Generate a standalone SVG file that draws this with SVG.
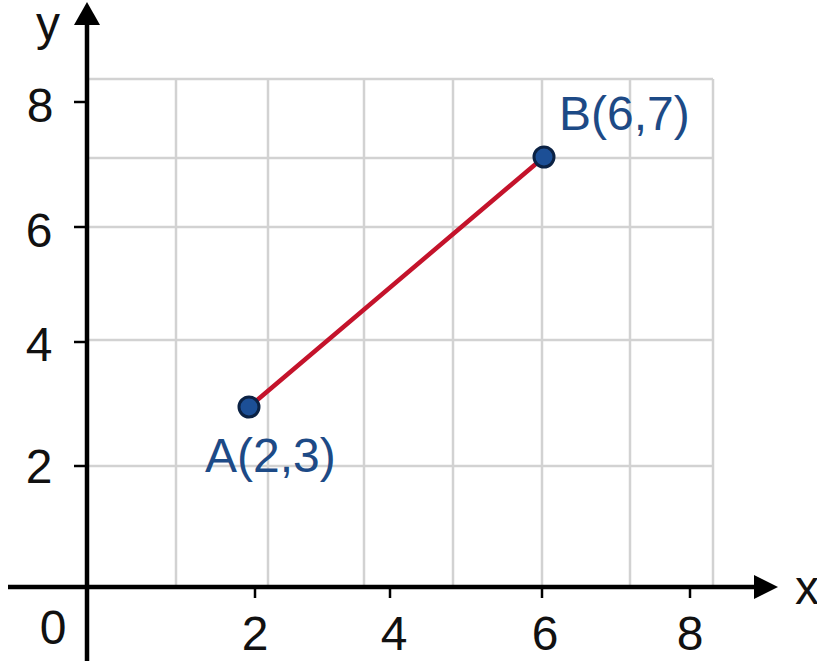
<svg xmlns="http://www.w3.org/2000/svg" width="817" height="661" viewBox="0 0 817 661">
  <style>
    .grid { stroke: #d2d2d2; stroke-width: 2.5; fill: none; }
    .axis { stroke: #000; stroke-width: 4.5; fill: none; }
    .tick { stroke: #000; stroke-width: 2.5; }
    .num { font-family: "Liberation Sans", Arial, sans-serif; font-size: 48px; fill: #111; }
    .ptlabel { font-family: "Liberation Sans", Arial, sans-serif; font-size: 48px; fill: #1d4a86; }
    .pt { fill: #1c4f96; stroke: #0b2244; stroke-width: 3; }
  </style>
  <rect x="0" y="0" width="817" height="661" fill="#fff"/>

  <g id="grid">
    <line class="grid" x1="88" y1="79" x2="713" y2="79"/>
    <line class="grid" x1="88" y1="158" x2="713" y2="158"/>
    <line class="grid" x1="88" y1="227" x2="713" y2="227"/>
    <line class="grid" x1="88" y1="340" x2="713" y2="340"/>
    <line class="grid" x1="88" y1="466" x2="713" y2="466"/>
    <line class="grid" x1="176" y1="79" x2="176" y2="587"/>
    <line class="grid" x1="268" y1="79" x2="268" y2="587"/>
    <line class="grid" x1="364" y1="79" x2="364" y2="587"/>
    <line class="grid" x1="453" y1="79" x2="453" y2="587"/>
    <line class="grid" x1="542" y1="79" x2="542" y2="587"/>
    <line class="grid" x1="630" y1="79" x2="630" y2="587"/>
    <line class="grid" x1="713" y1="79" x2="713" y2="587"/>
  </g>

  <g id="axes">
    <line class="axis" x1="87" y1="20" x2="87" y2="661"/>
    <polygon points="87,2 74,25 100,25" fill="#000"/>
    <line class="axis" x1="8" y1="587" x2="758" y2="587"/>
    <polygon points="778,587 754,575 754,599" fill="#000"/>
    <line class="tick" x1="74" y1="102" x2="87" y2="102"/>
    <line class="tick" x1="74" y1="227" x2="87" y2="227"/>
    <line class="tick" x1="74" y1="342" x2="87" y2="342"/>
    <line class="tick" x1="74" y1="466" x2="87" y2="466"/>
    <line class="tick" x1="255" y1="587" x2="255" y2="598"/>
    <line class="tick" x1="390" y1="587" x2="390" y2="598"/>
    <line class="tick" x1="542" y1="587" x2="542" y2="598"/>
    <line class="tick" x1="690" y1="587" x2="690" y2="598"/>
  </g>

  <g id="axis-labels">
    <text class="num" x="48" y="40" text-anchor="middle">y</text>
    <text class="num" x="807" y="604" text-anchor="middle">x</text>
    <text class="num" x="40" y="122" text-anchor="middle">8</text>
    <text class="num" x="39" y="247" text-anchor="middle">6</text>
    <text class="num" x="39" y="361" text-anchor="middle">4</text>
    <text class="num" x="39" y="483" text-anchor="middle">2</text>
    <text class="num" x="53" y="644" text-anchor="middle">0</text>
    <text class="num" x="255" y="650" text-anchor="middle">2</text>
    <text class="num" x="394" y="650" text-anchor="middle">4</text>
    <text class="num" x="545" y="650" text-anchor="middle">6</text>
    <text class="num" x="690" y="650" text-anchor="middle">8</text>
  </g>

  <g id="connectors">
    <line id="AB" x1="249" y1="407" x2="544" y2="157" stroke="#c4132b" stroke-width="4.5" stroke-linecap="round"/>
  </g>

  <g id="pointA">
    <circle class="pt" cx="249" cy="407" r="10"/>
    <text class="ptlabel" x="205" y="472">A(2,3)</text>
  </g>
  <g id="pointB">
    <circle class="pt" cx="544" cy="157" r="10"/>
    <text class="ptlabel" x="559" y="130">B(6,7)</text>
  </g>
</svg>
